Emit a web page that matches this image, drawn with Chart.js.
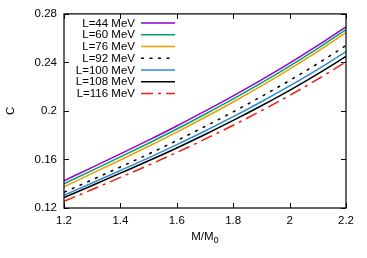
<!DOCTYPE html>
<html>
<head>
<meta charset="utf-8">
<script src="https://cdn.jsdelivr.net/npm/chart.js@4"></script>
<style>
html,body{margin:0;padding:0;background:#fff;}
#wrap{width:367px;height:258px;}
</style>
</head>
<body>
<div id="wrap"><canvas id="c" width="367" height="258"></canvas></div>
<script>
const massRatio = [1.2, 1.3, 1.4, 1.5, 1.6, 1.7, 1.8, 1.9, 2.0, 2.1, 2.2];
const seriesLabels = ['L=44 MeV','L=60 MeV','L=76 MeV','L=92 MeV','L=100 MeV','L=108 MeV','L=116 MeV'];
const c44  = [0.1425,0.1535,0.1646,0.1759,0.1876,0.1998,0.2124,0.2256,0.2394,0.2540,0.2694];
const c60  = [0.1400,0.1510,0.1621,0.1734,0.1851,0.1973,0.2099,0.2231,0.2370,0.2516,0.2671];
const c76  = [0.1375,0.1485,0.1596,0.1709,0.1826,0.1948,0.2074,0.2206,0.2345,0.2491,0.2645];
const c92  = [0.1329,0.1433,0.1538,0.1645,0.1756,0.1872,0.1993,0.2119,0.2251,0.2391,0.2539];
const c100 = [0.1305,0.1406,0.1509,0.1613,0.1722,0.1835,0.1953,0.2076,0.2206,0.2343,0.2489];
const c108 = [0.1287,0.1386,0.1487,0.1589,0.1695,0.1806,0.1922,0.2043,0.2170,0.2306,0.2449];
const c116 = [0.1255,0.1353,0.1452,0.1553,0.1658,0.1768,0.1882,0.2002,0.2128,0.2262,0.2404];
const xTicks = [1.2, 1.4, 1.6, 1.8, 2.0, 2.2];
const xTickLabels = ['1.2','1.4','1.6','1.8','2','2.2'];
const yTicks = [0.12, 0.16, 0.20, 0.24, 0.28];
const yTickLabels = ['0.12','0.16','0.2','0.24','0.28'];
const xTitle = 'M/M';
const xTitleSub = '0';
const yTitle = 'C';

const allSeries = [c44, c60, c76, c92, c100, c108, c116];
const styles = [
  {color:'#9400d3', dash:[]},
  {color:'#009e73', dash:[]},
  {color:'#e69f00', dash:[]},
  {color:'#000000', dash:[3,5.5]},
  {color:'#2b8cd0', dash:[]},
  {color:'#000000', dash:[]},
  {color:'#e51e10', dash:[12,5,3,5]}
];
const FONT = '"Liberation Sans", Arial, sans-serif';
const FS = 11.5;

const datasets = allSeries.map((arr, i) => ({
  label: seriesLabels[i],
  data: massRatio.map((x, j) => ({x: x, y: arr[j]})),
  borderColor: styles[i].color,
  borderDash: styles[i].dash,
  borderWidth: 1.5,
  pointRadius: 0,
  fill: false,
  cubicInterpolationMode: 'monotone'
}));

const framePlugin = {
  id: 'frame',
  afterDatasetsDraw(chart) {
    const ctx = chart.ctx;
    const a = chart.chartArea;
    const xs = chart.scales.x, ys = chart.scales.y;
    ctx.save();
    ctx.strokeStyle = '#000';
    ctx.lineWidth = 1.2;
    ctx.setLineDash([]);
    ctx.strokeRect(a.left, a.top, a.right - a.left, a.bottom - a.top);
    const tl = 5;
    ctx.beginPath();
    xTicks.forEach(v => {
      const px = Math.round(xs.getPixelForValue(v)) + 0.5;
      ctx.moveTo(px, a.bottom); ctx.lineTo(px, a.bottom - tl);
      ctx.moveTo(px, a.top); ctx.lineTo(px, a.top + tl);
    });
    yTicks.forEach(v => {
      const py = Math.round(ys.getPixelForValue(v)) + 0.5;
      ctx.moveTo(a.left, py); ctx.lineTo(a.left + tl, py);
      ctx.moveTo(a.right, py); ctx.lineTo(a.right - tl, py);
    });
    ctx.lineWidth = 1;
    ctx.stroke();

    // legend
    ctx.font = FS + 'px ' + FONT;
    ctx.fillStyle = '#000';
    ctx.textAlign = 'right';
    ctx.textBaseline = 'middle';
    const textRight = 135, x0 = 141, x1 = 175, y0 = 23, dy = 11.75;
    chart.data.datasets.forEach((ds, i) => {
      const y = y0 + i * dy;
      ctx.fillStyle = '#000';
      ctx.fillText(ds.label, textRight, y + 0.5);
      ctx.beginPath();
      ctx.strokeStyle = ds.borderColor;
      ctx.lineWidth = 1.5;
      ctx.setLineDash(ds.borderDash);
      ctx.moveTo(x0, y); ctx.lineTo(x1, y);
      ctx.stroke();
    });
    ctx.setLineDash([]);

    // axis titles
    ctx.fillStyle = '#000';
    ctx.textBaseline = 'alphabetic';
    ctx.font = FS + 'px ' + FONT;
    const mw = ctx.measureText(xTitle).width;
    ctx.font = (FS * 0.8) + 'px ' + FONT;
    const sw = ctx.measureText(xTitleSub).width;
    const cx = (a.left + a.right) / 2;
    const startX = cx - (mw + sw) / 2;
    ctx.textAlign = 'left';
    ctx.font = FS + 'px ' + FONT;
    ctx.fillText(xTitle, startX, 240);
    ctx.font = (FS * 0.8) + 'px ' + FONT;
    ctx.fillText(xTitleSub, startX + mw, 243);

    ctx.font = FS + 'px ' + FONT;
    ctx.translate(14, (a.top + a.bottom) / 2);
    ctx.rotate(-Math.PI / 2);
    ctx.textAlign = 'center';
    ctx.fillText(yTitle, 0, 0);
    ctx.restore();
  }
};

new Chart(document.getElementById('c'), {
  type: 'line',
  data: { datasets: datasets },
  options: {
    responsive: false,
    animation: false,
    devicePixelRatio: 1,
    layout: { padding: { top: 13, right: 21, left: 0, bottom: 0 } },
    plugins: { legend: { display: false }, tooltip: { enabled: false } },
    scales: {
      x: {
        type: 'linear',
        min: 1.2, max: 2.2,
        grid: { display: false, drawTicks: false },
        border: { display: false },
        afterFit(s) { s.height = 50; },
        afterBuildTicks(s) { s.ticks = xTicks.map(v => ({value: v})); },
        ticks: {
          padding: 6,
          color: '#000',
          font: { family: FONT, size: FS },
          maxRotation: 0,
          autoSkip: false,
          callback(v) { const i = xTicks.indexOf(v); return i >= 0 ? xTickLabels[i] : ''; }
        }
      },
      y: {
        type: 'linear',
        min: 0.12, max: 0.28,
        grid: { display: false, drawTicks: false },
        border: { display: false },
        afterFit(s) { s.width = 64; },
        afterBuildTicks(s) { s.ticks = yTicks.map(v => ({value: v})); },
        ticks: {
          padding: 7,
          color: '#000',
          font: { family: FONT, size: FS },
          autoSkip: false,
          callback(v) { const i = yTicks.indexOf(v); return i >= 0 ? yTickLabels[i] : ''; }
        }
      }
    }
  },
  plugins: [framePlugin]
});
</script>
</body>
</html>
